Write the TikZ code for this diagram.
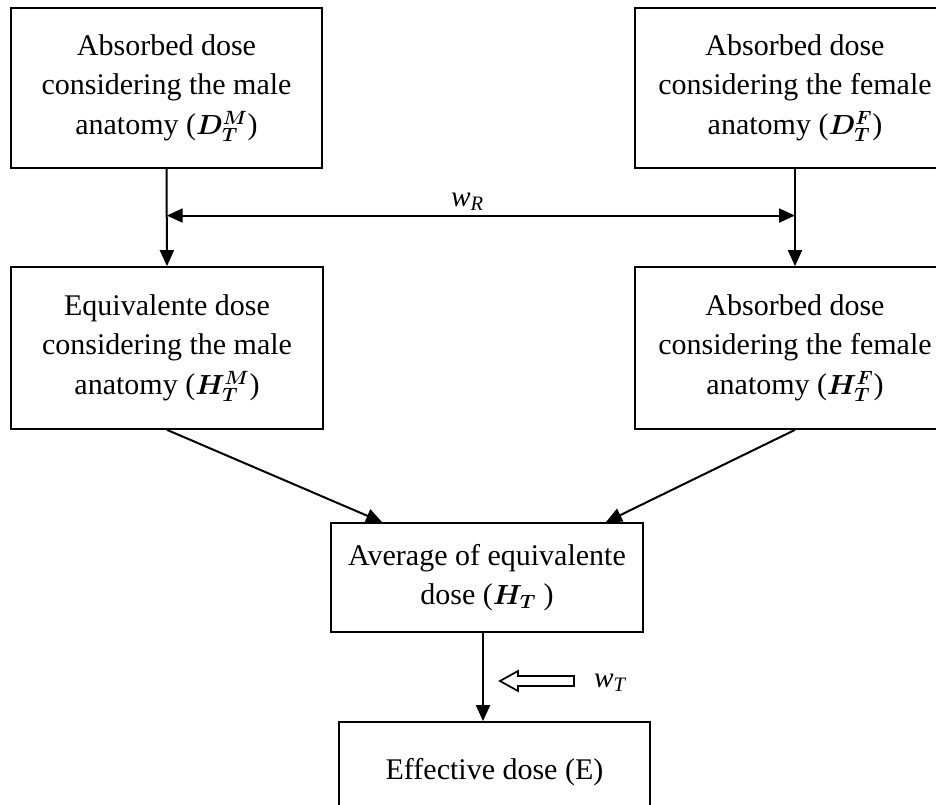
\documentclass[tikz,border=0pt]{standalone}
\usepackage{fontspec}
\setmainfont{Liberation Serif}
\usepackage{bm}
\usetikzlibrary{arrows.meta}

\tikzset{
  dosebox/.style={draw, line width=1.3pt, align=center, inner sep=0pt,
    font=\fontsize{22.5}{29.5}\selectfont},
  flow/.style={line width=1.5pt, -{Triangle[length=12pt,width=10.5pt]}},
  both/.style={line width=1.5pt, {Triangle[length=12pt,width=10.5pt]}-{Triangle[length=12pt,width=10.5pt]}},
  wlabel/.style={font=\fontsize{22}{25}\selectfont\itshape, inner sep=1pt}
}

\begin{document}
\begin{tikzpicture}[x=0.75pt,y=0.75pt,yscale=-1,xscale=1]
\useasboundingbox (0,0) rectangle (936,805);
\clip (0,0) rectangle (936,805);

%Shape: Rectangle [absorbed, male]
\node [dosebox, minimum width=311*0.75pt, minimum height=160*0.75pt] (dmale) at (166.5,88)
  {Absorbed dose\\considering the male\\anatomy ($\bm{D_T^M}$)};
%Shape: Rectangle [absorbed, female]
\node [dosebox, minimum width=320*0.75pt, minimum height=160*0.75pt] (dfemale) at (795,88)
  {Absorbed dose\\considering the female\\anatomy ($\bm{D_T^F}$)};
%Shape: Rectangle [equivalent, male]
\node [dosebox, minimum width=312*0.75pt, minimum height=162*0.75pt] (hmale) at (167,348)
  {Equivalente dose\\considering the male\\anatomy ($\bm{H_T^M}$)};
%Shape: Rectangle [equivalent, female]
\node [dosebox, minimum width=320*0.75pt, minimum height=162*0.75pt] (hfemale) at (795,348)
  {Absorbed dose\\considering the female\\anatomy ($\bm{H_T^F}$)};
%Shape: Rectangle [average]
\node [dosebox, minimum width=312*0.75pt, minimum height=109*0.75pt] (havg) at (487,577.5)
  {Average of equivalente\\dose ($\bm{H_T}$ )};
%Shape: Rectangle [effective]
\node [dosebox, minimum width=311*0.75pt, minimum height=100*0.75pt] (eff) at (494.5,772)
  {Effective dose (E)};

%Straight Lines [vertical arrows]
\draw [flow] (dmale.south) -- (hmale.north) coordinate[pos=0.48] (rl);
\draw [flow] (dfemale.south) -- (hfemale.north) coordinate[pos=0.48] (rr);
%Straight Lines [w_R]
\draw [both] (rl) -- (rr) node [wlabel, midway, above=2pt, xshift=-10] (wR) {w\textsubscript{R}};

%Straight Lines [to average]
\draw [flow] (hmale.south) -- ([xshift=52*0.75pt]havg.north west);
\draw [flow] (hfemale.south) -- ([xshift=-38*0.75pt]havg.north east);
\draw [flow] ([xshift=-4*0.75pt]havg.south) -- ([xshift=-4*0.75pt]havg.south |- eff.north);

%Shape: Hollow arrow [w_T]
\node [wlabel] (wT) at (610,683) {w\textsubscript{T}};
\draw [line width=1.3pt, fill=white] (500,681) -- (518,671) -- (518,676) -- (574,676)
  -- (574,686) -- (518,686) -- (518,691) -- cycle;

\end{tikzpicture}
\end{document}
